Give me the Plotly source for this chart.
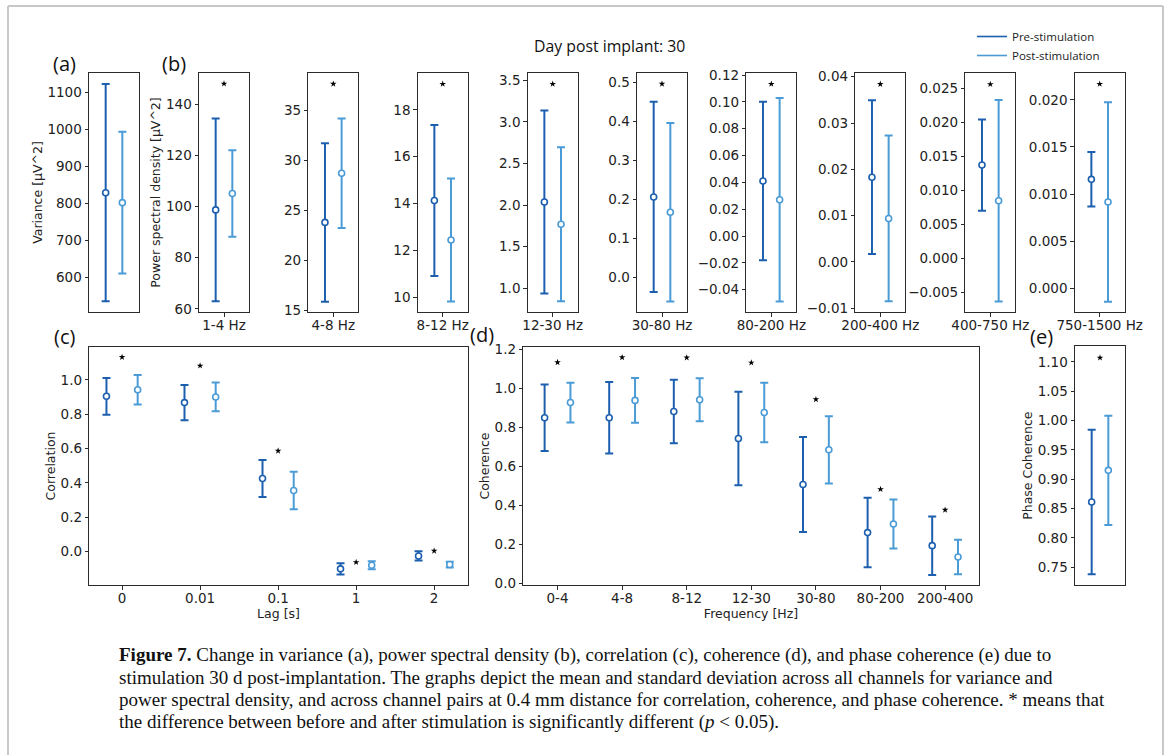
import plotly.graph_objects as go

W, H = 1171, 755
PRE_COLOR = "#1c5fae"
POST_COLOR = "#4a9bd6"
TICK_FONT = dict(family="DejaVu Sans", size=13.5, color="#222222")
LABEL_FONT = "Open Sans"

# ---------------- data ----------------
# (a) variance
variance_pre_mean = [829]
variance_pre_sd = [294]
variance_post_mean = [802]
variance_post_sd = [192]

# (b) power spectral density per band
psd_bands = ["1-4 Hz", "4-8 Hz", "8-12 Hz", "12-30 Hz", "30-80 Hz",
             "80-200 Hz", "200-400 Hz", "400-750 Hz", "750-1500 Hz"]
psd_pre_mean = [98.7, 23.8, 14.13, 2.037, 0.206, 0.041, 0.0183, 0.01374, 0.01156]
psd_pre_sd = [35.7, 7.9, 3.23, 1.10, 0.244, 0.059, 0.0166, 0.0067, 0.0029]
psd_post_mean = [105.1, 28.7, 12.44, 1.769, 0.167, 0.0271, 0.0094, 0.0085, 0.00915]
psd_post_sd = [16.9, 5.45, 2.63, 0.925, 0.229, 0.0758, 0.0179, 0.0148, 0.0106]
psd_star = [148.0, 37.6, 19.11, 3.456, 0.496, 0.1133, 0.0384, 0.0256, 0.0217]

# (c) correlation vs lag
lags = ["0", "0.01", "0.1", "1", "2"]
corr_pre_mean = [0.905, 0.868, 0.426, -0.101, -0.026]
corr_pre_sd = [0.107, 0.103, 0.108, 0.033, 0.027]
corr_post_mean = [0.943, 0.901, 0.356, -0.080, -0.076]
corr_post_sd = [0.086, 0.084, 0.109, 0.023, 0.017]
corr_star = [1.133, 1.083, 0.587, -0.0625, 0.0035]

# (d) coherence vs frequency band
coh_bands = ["0-4", "4-8", "8-12", "12-30", "30-80", "80-200", "200-400"]
coh_pre_mean = [0.848, 0.848, 0.880, 0.742, 0.506, 0.260, 0.193]
coh_pre_sd = [0.170, 0.183, 0.163, 0.239, 0.243, 0.178, 0.150]
coh_post_mean = [0.926, 0.937, 0.940, 0.875, 0.684, 0.304, 0.135]
coh_post_sd = [0.102, 0.115, 0.110, 0.153, 0.172, 0.125, 0.088]
coh_star = [1.132, 1.157, 1.156, 1.130, 0.942, 0.482, 0.376]

# (e) phase coherence
phase_pre_mean = [0.861]
phase_pre_sd = [0.123]
phase_post_mean = [0.915]
phase_post_sd = [0.093]
phase_star = [1.107]

caption_lines = [
    "<b>Figure 7.</b> Change in variance (a), power spectral density (b), correlation (c), "
    "coherence (d), and phase coherence (e) due to",
    "stimulation 30 d post-implantation. The graphs depict the mean and standard deviation "
    "across all channels for variance and",
    "power spectral density, and across channel pairs at 0.4 mm distance for correlation, "
    "coherence, and phase coherence. * means that",
    "the difference between before and after stimulation is significantly different "
    "(<i>p</i> < 0.05).",
]

# ---------------- layout helpers ----------------
def xdom(l, r):
    return [l / W, r / W]

def ydom(t, b):
    return [1 - b / H, 1 - t / H]

fig = go.Figure()
layout_axes = {}
OFF = 0.2
TITLE_FONT = dict(family="DejaVu Sans", size=12.5, color="#222")


def add_panel(idx, xpx, ypx, xrange, yrange, tick0, dtick, fmt,
              pre_m, pre_s, post_m, post_s, stars, ticktext=None,
              ytitle=None, xtitle=None):
    xa = "x" if idx == 1 else f"x{idx}"
    ya = "y" if idx == 1 else f"y{idx}"
    xkey = "xaxis" if idx == 1 else f"xaxis{idx}"
    ykey = "yaxis" if idx == 1 else f"yaxis{idx}"
    n = len(pre_m)
    pos = list(range(n))
    fig.add_trace(go.Scatter(
        x=[p - OFF for p in pos], y=pre_m, xaxis=xa, yaxis=ya, mode="markers",
        marker=dict(symbol="circle", size=6, color="white",
                    line=dict(color=PRE_COLOR, width=1.6)),
        error_y=dict(type="data", array=pre_s, visible=True, color=PRE_COLOR,
                     thickness=2, width=4),
        showlegend=False, hoverinfo="skip"))
    fig.add_trace(go.Scatter(
        x=[p + OFF for p in pos], y=post_m, xaxis=xa, yaxis=ya, mode="markers",
        marker=dict(symbol="circle", size=6, color="white",
                    line=dict(color=POST_COLOR, width=1.6)),
        error_y=dict(type="data", array=post_s, visible=True, color=POST_COLOR,
                     thickness=2, width=4),
        showlegend=False, hoverinfo="skip"))
    fig.add_trace(go.Scatter(
        x=pos, y=stars, xaxis=xa, yaxis=ya, mode="markers",
        marker=dict(symbol="star", size=5, color="black"),
        showlegend=False, hoverinfo="skip"))
    common = dict(showline=True, mirror=True, linecolor="#2b2b2b", linewidth=1,
                  showgrid=False, zeroline=False, tickfont=TICK_FONT,
                  ticks="outside", ticklen=3.5, tickwidth=1, tickcolor="#2b2b2b",
                  automargin=False, fixedrange=True)
    xa_cfg = dict(common, domain=xdom(*xpx), range=xrange, anchor=ya)
    if ticktext is None:
        xa_cfg.update(showticklabels=False, ticks="")
    else:
        xa_cfg.update(tickmode="array", tickvals=list(range(len(ticktext))),
                      ticktext=ticktext, ticklabelstandoff=-3)
    if xtitle:
        xa_cfg.update(title=dict(text=xtitle, standoff=0, font=TITLE_FONT))
    ya_cfg = dict(common, domain=ydom(*ypx), range=yrange, anchor=xa,
                  tickmode="linear", tick0=tick0, dtick=dtick, tickformat=fmt)
    if ytitle:
        ya_cfg.update(title=dict(text=ytitle, standoff=2, font=TITLE_FONT))
    layout_axes[xkey] = xa_cfg
    layout_axes[ykey] = ya_cfg


TOP_ROW = (73, 312)
BOT_ROW = (346.7, 585.3)

# (a)
add_panel(1, (89, 139), TOP_ROW, [-0.6, 0.6], [506, 1153], 600, 100, "d",
          variance_pre_mean, variance_pre_sd, variance_post_mean, variance_post_sd,
          [None], ytitle="Variance [µV^2]")

# (b)
b_lefts = [199, 308.3, 417.7, 527.7, 637, 746.3, 855.3, 965.3, 1074.7]
b_ranges = [[58.8, 152.2], [14.87, 38.69], [9.36, 19.58], [0.715, 3.588],
            [-0.089, 0.524], [-0.0566, 0.1215], [-0.0108, 0.0408],
            [-0.00784, 0.02725], [-0.00255, 0.02287]]
b_ticks = [(60, 20, "d"), (15, 5, "d"), (10, 2, "d"), (0.5, 0.5, ".1f"),
           (0, 0.1, ".1f"), (0, 0.02, ".2f"), (0, 0.01, ".2f"),
           (0, 0.005, ".3f"), (0, 0.005, ".3f")]
for i, band in enumerate(psd_bands):
    t0, dt, fm = b_ticks[i]
    add_panel(2 + i, (b_lefts[i], b_lefts[i] + 50), TOP_ROW, [-0.6, 0.6], b_ranges[i],
              t0, dt, fm, [psd_pre_mean[i]], [psd_pre_sd[i]], [psd_post_mean[i]],
              [psd_post_sd[i]], [psd_star[i]], ticktext=[band],
              ytitle="Power spectral density [µV^2]" if i == 0 else None)

# (c)
add_panel(11, (89.3, 467.7), BOT_ROW, [-0.42, 4.43], [-0.197, 1.194], 0, 0.2, ".1f",
          corr_pre_mean, corr_pre_sd, corr_post_mean, corr_post_sd, corr_star,
          ticktext=lags, ytitle="Correlation", xtitle="Lag [s]")

# (d)
add_panel(12, (523.3, 978.7), BOT_ROW, [-0.53, 6.52], [-0.010, 1.212], 0, 0.2, ".1f",
          coh_pre_mean, coh_pre_sd, coh_post_mean, coh_post_sd, coh_star,
          ticktext=coh_bands, ytitle="Coherence", xtitle="Frequency [Hz]")

# (e)
add_panel(13, (1075, 1125), (346, 585.3), [-0.6, 0.6], [0.719, 1.127], 0.75, 0.05, ".2f",
          phase_pre_mean, phase_pre_sd, phase_post_mean, phase_post_sd, phase_star,
          ytitle="Phase Coherence")

# legend proxies
fig.add_trace(go.Scatter(x=[None], y=[None], mode="lines", name="Pre-stimulation",
                         line=dict(color=PRE_COLOR, width=1.6)))
fig.add_trace(go.Scatter(x=[None], y=[None], mode="lines", name="Post-stimulation",
                         line=dict(color=POST_COLOR, width=1.6)))

annotations = []
def label(text, x, y, size=20, font=LABEL_FONT, xanchor="center", **kw):
    annotations.append(dict(text=text, x=x / W, y=1 - y / H, xref="paper", yref="paper",
                            xanchor=xanchor, yanchor="middle", showarrow=False,
                            font=dict(family=font, size=size, color="#111"), **kw))

label("(a)", 64, 64)
label("(b)", 174, 64)
label("(c)", 64, 337)
label("(d)", 482, 334)
label("(e)", 1041, 337)
label("Day post implant: 30", 609, 46, size=15.8)

for k, line in enumerate(caption_lines):
    label(line, 117, 655 + 22.3 * k, size=19, font="Liberation Serif", xanchor="left",
          align="left")

shapes = [
    dict(type="line", xref="paper", yref="paper", x0=8 / W, x1=8 / W, y0=0, y1=1 - 6 / H,
         line=dict(color="#c8c8c8", width=2)),
    dict(type="line", xref="paper", yref="paper", x0=8 / W, x1=1163 / W, y0=1 - 6 / H,
         y1=1 - 6 / H, line=dict(color="#c8c8c8", width=2)),
    dict(type="line", xref="paper", yref="paper", x0=1163 / W, x1=1163 / W, y0=0,
         y1=1 - 6 / H, line=dict(color="#c8c8c8", width=2)),
]

fig.update_layout(
    width=W, height=H, margin=dict(l=0, r=0, t=0, b=0),
    paper_bgcolor="white", plot_bgcolor="white",
    showlegend=True,
    legend=dict(x=972 / W, y=1 - 22 / H, xanchor="left", yanchor="top",
                bgcolor="rgba(0,0,0,0)", font=dict(family=LABEL_FONT, size=11.5, color="#222"),
                tracegroupgap=0),
    annotations=annotations, shapes=shapes,
    **layout_axes,
)

fig.write_html("out.html")
